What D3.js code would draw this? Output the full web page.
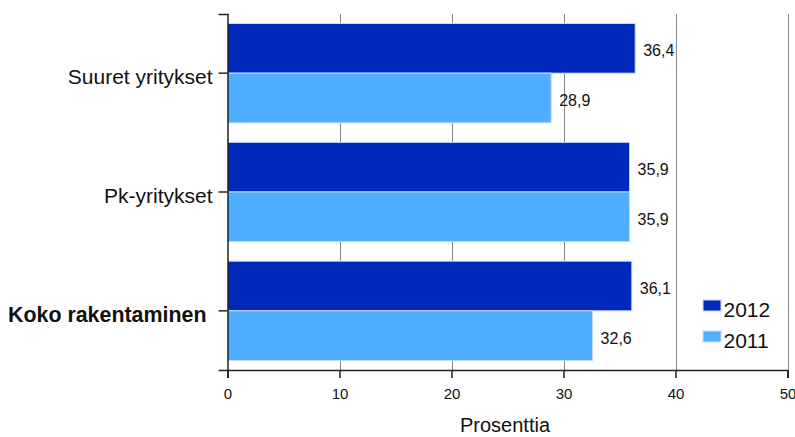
<!DOCTYPE html>
<html>
<head>
<meta charset="utf-8">
<script src="https://cdn.jsdelivr.net/npm/d3@7"></script>
<style>
body { margin: 0; background: #fff; }
svg text { font-family: "Liberation Sans", Arial, sans-serif; }
</style>
</head>
<body>
<svg id="chart" width="795" height="437"></svg>
<script>
var categories = ['Suuret yritykset', 'Pk-yritykset', 'Koko rakentaminen'];
var years = ['2012', '2011'];
var values2012 = [36.4, 35.9, 36.1];
var values2011 = [28.9, 35.9, 32.6];
var xTicks = [0, 10, 20, 30, 40, 50];
var colors = { '2012': '#0028bb', '2011': '#4faeff' };

var svg = d3.select('#chart');
var x = d3.scaleLinear().domain([0, 50]).range([227.5, 787.5]);
var y = d3.scaleBand().domain(categories).range([14, 370]).paddingInner(0.164).paddingOuter(0.08);
var y1 = d3.scaleBand().domain(years).range([0, y.bandwidth()]);

var data = categories.map(function (c, i) {
    return { cat: c, vals: [{ year: '2012', v: values2012[i] }, { year: '2011', v: values2011[i] }] };
});

// gridlines
svg.append('g').selectAll('line').data(xTicks.slice(1)).enter()
    .append('line')
    .attr('x1', function (d) { return Math.round(x(d)) + 0.5; })
    .attr('x2', function (d) { return Math.round(x(d)) + 0.5; })
    .attr('y1', 14).attr('y2', 370)
    .attr('stroke', '#888').attr('stroke-width', 1);

// bars
var groups = svg.append('g').selectAll('g').data(data).enter()
    .append('g').attr('transform', function (d) { return 'translate(0,' + y(d.cat) + ')'; });
groups.selectAll('rect').data(function (d) { return d.vals; }).enter()
    .append('rect')
    .attr('x', x(0))
    .attr('y', function (d) { return y1(d.year); })
    .attr('width', function (d) { return x(d.v) - x(0); })
    .attr('height', y1.bandwidth())
    .attr('fill', function (d) { return colors[d.year]; })
    .attr('stroke', '#c8dcff').attr('stroke-width', 1);
groups.selectAll('text').data(function (d) { return d.vals; }).enter()
    .append('text')
    .attr('x', function (d) { return x(d.v) + 8; })
    .attr('y', function (d) { return y1(d.year) + y1.bandwidth() / 2; })
    .attr('dy', '0.5em')
    .attr('font-size', 16).attr('fill', '#111')
    .text(function (d) { return d3.format('.1f')(d.v).replace('.', ','); });

// x axis
var xAxis = svg.append('g').attr('transform', 'translate(0,370)')
    .call(d3.axisBottom(x).tickValues(xTicks).tickSize(8).tickPadding(10).tickFormat(d3.format('d')));
xAxis.select('.domain').attr('stroke', '#222').attr('stroke-width', 1.5);
xAxis.selectAll('.tick line').attr('stroke', '#222').attr('stroke-width', 1.5);
xAxis.selectAll('text').attr('font-size', 15).attr('fill', '#111')
    .style('font-family', '"Liberation Sans", Arial, sans-serif');

// y axis
var yAxis = svg.append('g').attr('transform', 'translate(227.5,0)')
    .call(d3.axisLeft(y).tickSize(9).tickPadding(6));
yAxis.select('.domain').attr('stroke', '#222').attr('stroke-width', 1.5);
yAxis.selectAll('.tick line').attr('stroke', '#222').attr('stroke-width', 1.5);
yAxis.selectAll('text').attr('font-size', 21).attr('fill', '#111').attr('dy', '0.5em')
    .style('font-family', '"Liberation Sans", Arial, sans-serif')
    .filter(function (d) { return d === 'Koko rakentaminen'; })
    .attr('font-weight', 'bold').attr('font-size', 21.4)
    .attr('dx', -6);

// x label
svg.append('text').attr('x', 505).attr('y', 432).attr('text-anchor', 'middle')
    .attr('font-size', 20).attr('fill', '#111').text('Prosenttia');

// legend
var legend = svg.append('g').selectAll('g').data(years).enter()
    .append('g').attr('transform', function (d, i) { return 'translate(703,' + (300 + i * 31) + ')'; });
legend.append('rect').attr('width', 18).attr('height', 11)
    .attr('fill', function (d) { return colors[d]; })
    .attr('stroke', '#c8dcff');
legend.append('text').attr('x', 20.5).attr('y', 16.5).attr('font-size', 21).attr('fill', '#111')
    .text(function (d) { return d; });
</script>
</body>
</html>
